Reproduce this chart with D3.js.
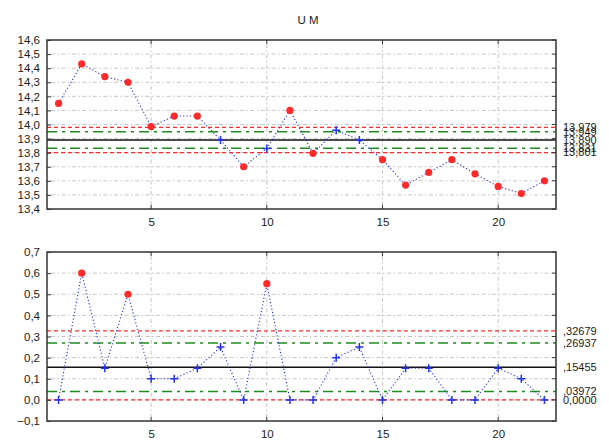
<!DOCTYPE html>
<html>
<head>
<meta charset="utf-8">
<script src="https://cdn.jsdelivr.net/npm/d3@7"></script>
<style>
  html, body { margin: 0; padding: 0; background: #fff; }
  svg { display: block; font-family: Arial, "Liberation Sans", sans-serif; }
</style>
</head>
<body>
<svg id="chart" width="609" height="441"></svg>
<script>
// ---------------- DATA ----------------
const title = "U M";
const samples = [1,2,3,4,5,6,7,8,9,10,11,12,13,14,15,16,17,18,19,20,21,22];
const xTicks = [5, 10, 15, 20];

const topValues = [14.15, 14.43, 14.34, 14.30, 13.985, 14.06, 14.06, 13.89, 13.70, 13.83, 14.10,
                   13.795, 13.96, 13.89, 13.75, 13.57, 13.66, 13.75, 13.65, 13.56, 13.51, 13.60];
const topTicks = [13.4,13.5,13.6,13.7,13.8,13.9,14.0,14.1,14.2,14.3,14.4,14.5,14.6];
const topLimits = [13.979, 13.949, 13.890, 13.831, 13.801];
const topLimitLabels = ["13,979", "13,949", "13,890", "13,831", "13,801"];

const bottomValues = [0.00, 0.60, 0.15, 0.50, 0.10, 0.10, 0.15, 0.25, 0.00, 0.55, 0.00,
                      0.00, 0.20, 0.25, 0.00, 0.15, 0.15, 0.00, 0.00, 0.15, 0.10, 0.00];
const bottomTicks = [-0.1,0.0,0.1,0.2,0.3,0.4,0.5,0.6,0.7];
const bottomLimits = [0.32679, 0.26937, 0.15455, 0.03972, 0.0];
const bottomLimitLabels = [",32679", ",26937", ",15455", ",03972", "0,0000"];

// limit line kinds: UCL, upper warning, center, lower warning, LCL
const limitKinds = ["ctrl", "warn", "center", "warn", "ctrl"];

// ---------------- STYLE ----------------
const RED = "#ff2a2a";
const GREEN = "#1e8c1e";
const BLUE = "#2233ee";
const TEXT = "#1a1a1a";
const limitStyle = {
  ctrl:   { stroke: RED,   dash: "4,3",        width: 1.3 },
  warn:   { stroke: GREEN, dash: "10,5,3,5",   width: 1.6 },
  center: { stroke: "#111", dash: null,        width: 1.5 }
};

const svg = d3.select("#chart");
const left = 47, right = 556;

svg.append("text")
  .attr("x", 308).attr("y", 24)
  .attr("text-anchor", "middle")
  .attr("font-size", 11.5)
  .attr("fill", TEXT)
  .text(title);

const fmtTick = v => d3.format(".1f")(v).replace(".", ",").replace("-0,0", "0,0");

function panel(cfg) {
  const x = d3.scaleLinear().domain([0.5, 22.5]).range([left, right]);
  const y = d3.scaleLinear().domain(cfg.domain).range([cfg.bottom, cfg.top]);
  const g = svg.append("g");
  const clipId = "clip" + cfg.id;
  svg.append("clipPath").attr("id", clipId)
    .append("rect").attr("x", left).attr("y", cfg.top)
    .attr("width", right - left).attr("height", cfg.bottom - cfg.top);

  // grid
  g.append("g").selectAll("line").data(cfg.ticks.filter(t => t > cfg.domain[0] + 1e-9 && t < cfg.domain[1] - 1e-9))
    .join("line")
    .attr("x1", left).attr("x2", right)
    .attr("y1", d => y(d)).attr("y2", d => y(d))
    .attr("stroke", "#c4c4c4").attr("stroke-width", 1)
    .attr("stroke-dasharray", "1.5,2.5,4,2.5");
  g.append("g").selectAll("line").data(xTicks)
    .join("line")
    .attr("x1", d => x(d)).attr("x2", d => x(d))
    .attr("y1", cfg.top).attr("y2", cfg.bottom)
    .attr("stroke", "#c4c4c4").attr("stroke-width", 1)
    .attr("stroke-dasharray", "1.5,2.5,4,2.5");

  // limit lines
  g.append("g").selectAll("line").data(cfg.limits)
    .join("line")
    .attr("x1", left).attr("x2", right)
    .attr("y1", d => y(d)).attr("y2", d => y(d))
    .attr("stroke", (d, i) => limitStyle[limitKinds[i]].stroke)
    .attr("stroke-width", (d, i) => limitStyle[limitKinds[i]].width)
    .attr("stroke-dasharray", (d, i) => limitStyle[limitKinds[i]].dash);

  // limit labels (they overlap in the original chart as well)
  g.append("g").selectAll("text").data(cfg.limits)
    .join("text")
    .attr("x", 563).attr("y", d => y(d))
    .attr("dy", "0.35em")
    .attr("font-size", 11)
    .attr("fill", TEXT)
    .text((d, i) => cfg.limitLabels[i]);

  // data line
  const line = d3.line().x((d, i) => x(samples[i])).y(d => y(d));
  g.append("path")
    .attr("clip-path", `url(#${clipId})`)
    .attr("d", line(cfg.values))
    .attr("fill", "none")
    .attr("stroke", BLUE)
    .attr("stroke-width", 1.1)
    .attr("stroke-dasharray", "1.2,2.2");

  // markers
  const ucl = cfg.limits[0], lcl = cfg.limits[4];
  const pts = cfg.values.map((v, i) => ({ x: samples[i], v, out: v > ucl || v < lcl }));
  g.append("g").selectAll("circle").data(pts.filter(p => p.out))
    .join("circle")
    .attr("cx", d => x(d.x)).attr("cy", d => y(d.v))
    .attr("r", 3.6).attr("fill", RED);
  g.append("g").selectAll("path").data(pts.filter(p => !p.out))
    .join("path")
    .attr("d", d => {
      const cx = x(d.x), cy = y(d.v), s = 4;
      return `M${cx - s},${cy}H${cx + s}M${cx},${cy - s}V${cy + s}`;
    })
    .attr("stroke", BLUE).attr("stroke-width", 1.5).attr("fill", "none");

  // frame
  g.append("rect")
    .attr("x", left).attr("y", cfg.top)
    .attr("width", right - left).attr("height", cfg.bottom - cfg.top)
    .attr("fill", "none").attr("stroke", "#333").attr("stroke-width", 1.5);

  // y axis
  const yAxis = d3.axisLeft(y).tickValues(cfg.ticks).tickFormat(fmtTick).tickSize(4).tickPadding(3);
  const ya = g.append("g").attr("transform", `translate(${left},0)`).call(yAxis);
  ya.select(".domain").remove();
  ya.selectAll("line").attr("stroke", "#333").attr("x2", 4).attr("x1", 0);
  ya.selectAll("text").attr("font-size", 11.5).attr("fill", TEXT)
    .attr("font-family", "Arial, 'Liberation Sans', sans-serif");

  // right inner ticks
  g.append("g").selectAll("line").data(cfg.ticks)
    .join("line")
    .attr("x1", right - 4).attr("x2", right)
    .attr("y1", d => y(d)).attr("y2", d => y(d))
    .attr("stroke", "#333").attr("stroke-width", 1);

  // x axis
  const xAxis = d3.axisBottom(x).tickValues(xTicks).tickFormat(d3.format("d")).tickSize(0).tickPadding(9);
  const xa = g.append("g").attr("transform", `translate(0,${cfg.bottom})`).call(xAxis);
  xa.select(".domain").remove();
  xa.selectAll("text").attr("font-size", 11.5).attr("fill", TEXT)
    .attr("font-family", "Arial, 'Liberation Sans', sans-serif");
  g.append("g").selectAll("line").data(xTicks)
    .join("line")
    .attr("x1", d => x(d)).attr("x2", d => x(d))
    .attr("y1", cfg.top).attr("y2", cfg.top + 4)
    .attr("stroke", "#333");
  g.append("g").selectAll("line").data(xTicks)
    .join("line")
    .attr("x1", d => x(d)).attr("x2", d => x(d))
    .attr("y1", cfg.bottom - 4).attr("y2", cfg.bottom)
    .attr("stroke", "#333");
}

panel({
  id: "top", top: 40, bottom: 209, domain: [13.4, 14.6],
  ticks: topTicks, values: topValues, limits: topLimits, limitLabels: topLimitLabels
});
panel({
  id: "bot", top: 252, bottom: 421, domain: [-0.1, 0.7],
  ticks: bottomTicks, values: bottomValues, limits: bottomLimits, limitLabels: bottomLimitLabels
});
</script>
</body>
</html>
